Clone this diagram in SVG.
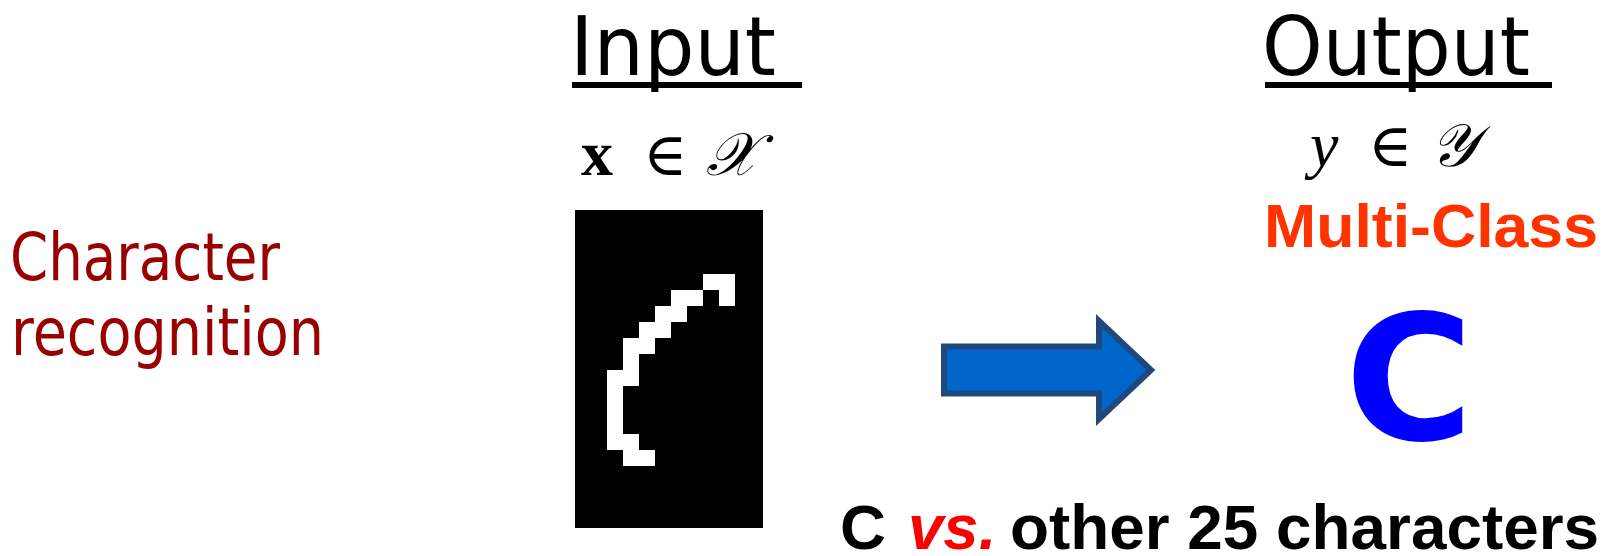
<svg xmlns="http://www.w3.org/2000/svg" width="1606" height="556" viewBox="0 0 1606 556">
  <style>
    .head { font-family: "DejaVu Sans", Verdana, sans-serif; font-size: 82px; fill: #000; }
    .uline { stroke: #000; stroke-width: 6; }
    .task { font-family: "DejaVu Sans", Verdana, sans-serif; font-size: 65px; fill: #990000; }
    .math { font-family: "Liberation Serif", "DejaVu Serif", serif; fill: #000; }
    .elem { font-family: "DejaVu Serif", serif; font-size: 60px; }
    .arial-b { font-family: "Liberation Sans", Arial, sans-serif; font-weight: bold; }
  </style>

  <rect width="1606" height="556" fill="#ffffff"/>

  <!-- task name on the left -->
  <g id="task-label">
    <text class="task" x="10" y="280" textLength="270" lengthAdjust="spacingAndGlyphs">Character</text>
    <text class="task" x="11" y="355" textLength="313" lengthAdjust="spacingAndGlyphs">recognition</text>
  </g>

  <!-- input side: heading, domain, bitmap of the handwritten letter -->
  <g id="input">
    <text class="head" x="570" y="75" textLength="206" lengthAdjust="spacingAndGlyphs">Input</text>
    <line class="uline" x1="572" y1="85" x2="802" y2="85"/>
    <text class="math" y="175" font-size="64">
      <tspan x="581" font-weight="bold">x</tspan>
      <tspan x="643" class="elem">∈</tspan>
      <tspan x="706" font-style="italic" font-size="60">𝒳</tspan>
    </text>
  </g>

  <g id="input-image">
    <rect x="575" y="210" width="188" height="318" fill="#000"/>
    <!-- 16px cells -->
    <g fill="#fff">
      <rect x="703" y="274" width="32" height="16"/>
      <rect x="719" y="290" width="16" height="16"/>
      <rect x="671" y="290" width="32" height="16"/>
      <rect x="655" y="306" width="32" height="16"/>
      <rect x="639" y="322" width="32" height="16"/>
      <rect x="623" y="338" width="32" height="16"/>
      <rect x="623" y="354" width="16" height="16"/>
      <rect x="607" y="370" width="32" height="16"/>
      <rect x="607" y="386" width="16" height="48"/>
      <rect x="607" y="434" width="32" height="16"/>
      <rect x="623" y="450" width="32" height="16"/>
    </g>
  </g>

  <!-- mapping arrow -->
  <g id="connectors">
    <path d="M944,346.5 H1099 V321 L1151,370 L1099,419 V393.5 H944 Z" fill="#0066CC" stroke="#1F497D" stroke-width="6" stroke-linejoin="miter"/>
  </g>

  <!-- output side -->
  <g id="output">
    <text class="head" x="1262" y="75" textLength="268" lengthAdjust="spacingAndGlyphs">Output</text>
    <line class="uline" x1="1265" y1="85" x2="1552" y2="85"/>
    <text class="math" y="166" font-size="64">
      <tspan x="1310" font-style="italic">y</tspan>
      <tspan x="1368" class="elem">∈</tspan>
      <tspan x="1430" font-style="italic" font-size="60">𝒴</tspan>
    </text>
    <text class="arial-b" x="1264" y="247" font-size="61" fill="#FF3300" textLength="334" lengthAdjust="spacingAndGlyphs">Multi-Class</text>
    <text x="1345" y="440" font-family="DejaVu Sans, Verdana, sans-serif" font-weight="bold" font-size="175" fill="#0000FF">C</text>
  </g>

  <g id="binary-note">
    <text class="arial-b" y="549" font-size="63.5" fill="#000">
      <tspan x="840">C</tspan>
      <tspan x="908" font-style="italic" fill="#FF0000">vs.</tspan>
      <tspan x="1010" textLength="589" lengthAdjust="spacingAndGlyphs">other 25 characters</tspan>
    </text>
  </g>
</svg>
